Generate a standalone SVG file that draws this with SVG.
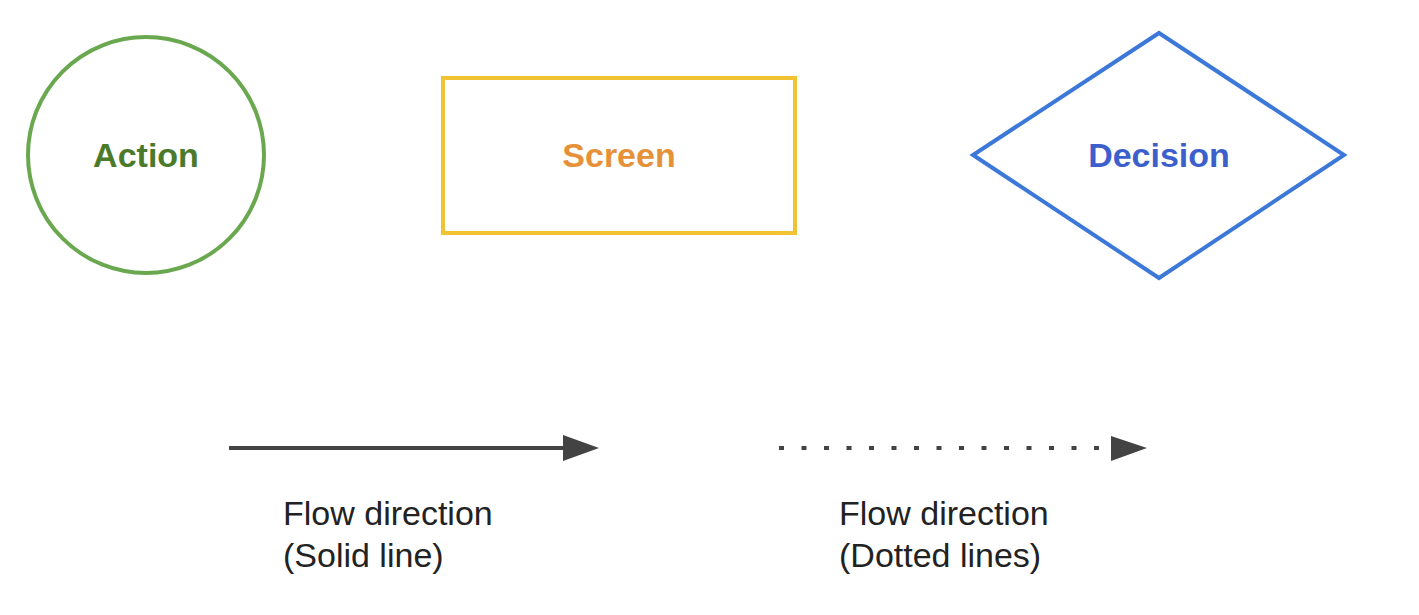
<svg xmlns="http://www.w3.org/2000/svg" width="1419" height="615" viewBox="0 0 1419 615">
<style>
.lbl{font-family:"Liberation Sans",Arial,sans-serif;font-weight:bold;font-size:34px;text-anchor:middle}
.cap{font-family:"Liberation Sans",Arial,sans-serif;font-size:34px;fill:#222}
.shape{fill:none;stroke-width:4}
.conn{stroke:#434343;stroke-width:4;fill:none}
</style>
<defs>
<marker id="ah" markerUnits="userSpaceOnUse" markerWidth="36" markerHeight="26" refX="0" refY="13" orient="auto" viewBox="0 0 36 26">
<path d="M0,0 L36,13 L0,26 Z" fill="#434343"/>
</marker>
</defs>
<rect width="1419" height="615" fill="#fff"/>
<g id="action">
<circle class="shape" cx="146" cy="155" r="118" stroke="#6aa84f"/>
<text class="lbl" x="146" y="167" fill="#4a7a2a">Action</text>
</g>
<g id="screen">
<rect class="shape" x="443" y="78" width="352" height="155" stroke="#f1c232"/>
<text class="lbl" x="619" y="167" fill="#e69138">Screen</text>
</g>
<g id="decision">
<polygon class="shape" points="1159,33 1344,155 1159,278 973,155" stroke="#3c78d8"/>
<text class="lbl" x="1159" y="167" fill="#3c5fcc">Decision</text>
</g>
<g id="connectors">
<line class="conn" x1="229" y1="448" x2="563" y2="448" marker-end="url(#ah)"/>
<line class="conn" x1="779" y1="448" x2="1100" y2="448" stroke-width="5" stroke-dasharray="5 17.5"/>
<path d="M1111,436 L1147,448 L1111,461 Z" fill="#434343"/>
</g>
<g id="legend-solid">
<text class="cap" x="283" y="525">Flow direction</text>
<text class="cap" x="283" y="567">(Solid line)</text>
</g>
<g id="legend-dotted">
<text class="cap" x="839" y="525">Flow direction</text>
<text class="cap" x="839" y="567">(Dotted lines)</text>
</g>
</svg>
